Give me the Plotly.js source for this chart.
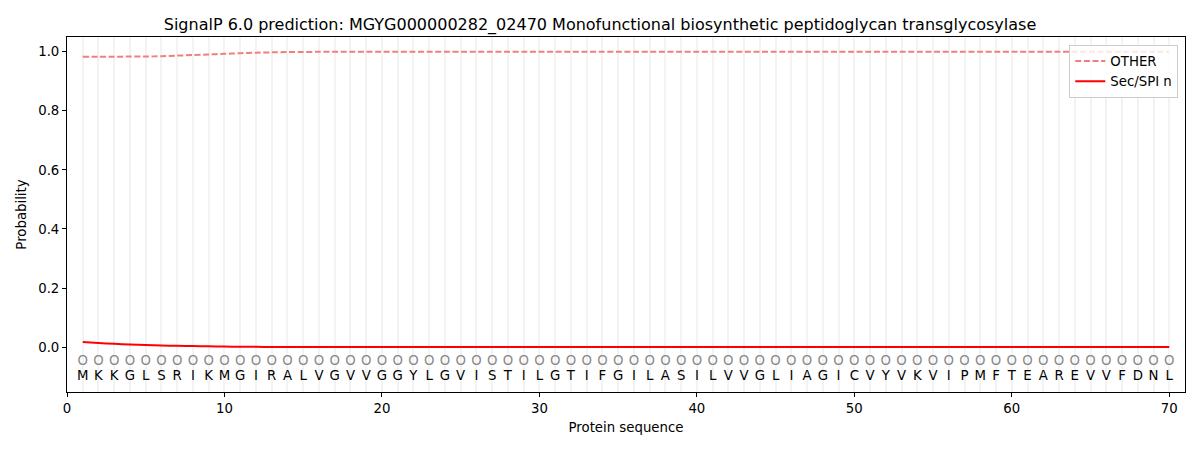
<!DOCTYPE html>
<html>
<head>
<meta charset="utf-8">
<script src="https://cdn.plot.ly/plotly-3.0.1.min.js"></script>
<style>
  html, body { margin: 0; padding: 0; background: #fff; }
  #myDiv { width: 1200px; height: 450px; }
</style>
</head>
<body>
<div id="myDiv"></div>
<script>
// residues and predicted labels, one per position
var sequence = "MKKGLSRIKMGIRALVGVVGGYLGVISTILGTIFGILASILVVGLIAGICVYVKVIPMFTEAREVVFDNL".split("");
var labels = "OOOOOOOOOOOOOOOOOOOOOOOOOOOOOOOOOOOOOOOOOOOOOOOOOOOOOOOOOOOOOOOOOOOOOO".split("");

var other = [0.983, 0.983, 0.983, 0.984, 0.984, 0.985, 0.987, 0.989, 0.991, 0.993,
             0.995, 0.997, 0.998, 0.999, 0.999, 1.0, 1.0, 1.0, 1.0, 1.0,
             1.0, 1.0, 1.0, 1.0, 1.0, 1.0, 1.0, 1.0, 1.0, 1.0,
             1.0, 1.0, 1.0, 1.0, 1.0, 1.0, 1.0, 1.0, 1.0, 1.0,
             1.0, 1.0, 1.0, 1.0, 1.0, 1.0, 1.0, 1.0, 1.0, 1.0,
             1.0, 1.0, 1.0, 1.0, 1.0, 1.0, 1.0, 1.0, 1.0, 1.0,
             1.0, 1.0, 1.0, 1.0, 1.0, 1.0, 1.0, 1.0, 1.0, 1.0];

var secSpiN = [0.017, 0.014, 0.011, 0.009, 0.007, 0.0055, 0.0045, 0.0035, 0.0025, 0.0018,
               0.0012, 0.0008, 0.0005, 0.0003, 0.0002, 0.0001, 0.0001, 0, 0, 0,
               0, 0, 0, 0, 0, 0, 0, 0, 0, 0,
               0, 0, 0, 0, 0, 0, 0, 0, 0, 0,
               0, 0, 0, 0, 0, 0, 0, 0, 0, 0,
               0, 0, 0, 0, 0, 0, 0, 0, 0, 0,
               0, 0, 0, 0, 0, 0, 0, 0, 0, 0];

var positions = sequence.map(function (_, i) { return i + 1; });

var font = "DejaVu Sans, sans-serif";

var data = [
    {
        x: positions, y: other, name: "OTHER", type: "scatter", mode: "lines",
        line: {color: "#f08080", width: 2, dash: "6px,2.6px", shape: "spline", smoothing: 0.8}
    },
    {
        x: positions, y: secSpiN, name: "Sec/SPI n", type: "scatter", mode: "lines",
        line: {color: "#ff0000", width: 2, shape: "spline", smoothing: 0.8}
    },
    {
        x: positions, y: positions.map(function () { return -0.05; }),
        text: labels, type: "scatter", mode: "text", showlegend: false,
        textfont: {family: font, size: 13.3, color: "#8a8a8a"}
    },
    {
        x: positions, y: positions.map(function () { return -0.1; }),
        text: sequence, type: "scatter", mode: "text", showlegend: false,
        textfont: {family: font, size: 13.3, color: "#000000"}
    }
];

var layout = {
    width: 1200,
    height: 450,
    paper_bgcolor: "white",
    plot_bgcolor: "white",
    hovermode: false,
    font: {family: font, size: 13.3, color: "#000"},
    margin: {l: 67, r: 15, t: 37, b: 58},
    title: {
        text: "SignalP 6.0 prediction: MGYG000000282_02470 Monofunctional biosynthetic peptidoglycan transglycosylase",
        font: {family: font, size: 16, color: "#000"},
        x: 0.5, xanchor: "center", y: 0.946, yanchor: "middle"
    },
    xaxis: {
        range: [0, 71],
        tickmode: "array",
        tickvals: [0, 10, 20, 30, 40, 50, 60, 70],
        ticks: "outside", ticklen: 4, tickcolor: "#000",
        showline: true, linecolor: "#000", linewidth: 1, mirror: true,
        showgrid: true, gridcolor: "#f3f3f3", gridwidth: 2,
        zeroline: false,
        minor: {dtick: 1, tick0: 0, showgrid: true, gridcolor: "#f3f3f3", gridwidth: 2, ticks: ""},
        title: {text: "Protein sequence", font: {family: font, size: 13.3}, standoff: 7}
    },
    yaxis: {
        range: [-0.152, 1.05],
        tickmode: "array",
        tickvals: [0, 0.2, 0.4, 0.6, 0.8, 1.0],
        ticktext: ["0.0", "0.2", "0.4", "0.6", "0.8", "1.0"],
        ticks: "outside", ticklen: 4, tickcolor: "#000",
        showline: true, linecolor: "#000", linewidth: 1, mirror: true,
        showgrid: false, zeroline: false,
        title: {text: "Probability", font: {family: font, size: 13.3}, standoff: 8}
    },
    legend: {
        x: 0.994, y: 0.978, xanchor: "right", yanchor: "top",
        bgcolor: "rgba(255,255,255,0.8)", bordercolor: "#cccccc", borderwidth: 1,
        font: {family: font, size: 13.3}, tracegroupgap: 0
    }
};

Plotly.newPlot("myDiv", data, layout, {displayModeBar: false, staticPlot: true});
</script>
</body>
</html>
